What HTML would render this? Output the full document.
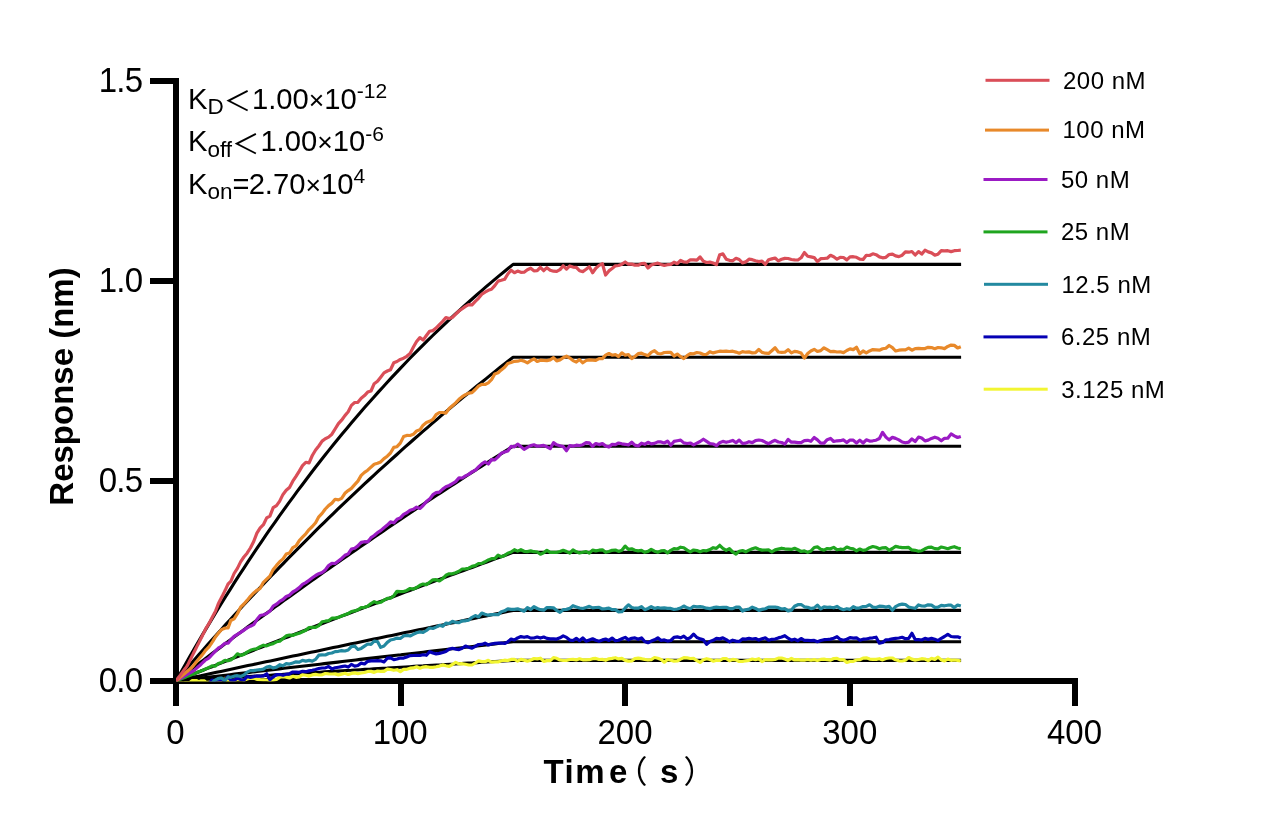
<!DOCTYPE html>
<html lang="en"><head><meta charset="utf-8"><title>BLI kinetics</title>
<style>
html,body{margin:0;padding:0;background:#fff;}
body{width:1272px;height:834px;overflow:hidden;}
svg{display:block;}
text{font-family:"Liberation Sans","Noto Sans CJK SC",sans-serif;fill:#000;}
.tick{font-size:33px;}
.leg{font-size:24px;letter-spacing:0.5px;}
.ann{font-size:29.2px;}
.ttl{font-size:33px;font-weight:bold;}
.par{font-family:"Noto Sans CJK SC",sans-serif;font-weight:400;font-size:31.5px;}
</style></head><body>
<svg width="1272" height="834" viewBox="0 0 1272 834">
<rect width="1272" height="834" fill="#fff"/>
<defs><clipPath id="pc"><rect x="176" y="60" width="820" height="621.5"/></clipPath></defs>
<g fill="#000">
<rect x="173" y="78" width="6" height="628"/>
<rect x="150" y="678" width="928" height="6"/>
<rect x="150" y="478.0" width="26" height="6"/>
<rect x="150" y="278.0" width="26" height="6"/>
<rect x="150" y="78.0" width="26" height="6"/>
<rect x="398" y="681" width="6" height="25"/>
<rect x="622" y="681" width="6" height="25"/>
<rect x="847" y="681" width="6" height="25"/>
<rect x="1072" y="681" width="6" height="25"/>
</g>
<g fill="none" stroke="#000" stroke-width="3.1" stroke-linejoin="round" clip-path="url(#pc)">
<path d="M176.0,681.0 L180.5,672.9 L185.0,665.0 L189.5,657.1 L194.0,649.3 L198.5,641.6 L203.0,633.9 L207.5,626.4 L212.0,618.9 L216.5,611.5 L220.9,604.2 L225.4,596.9 L229.9,589.8 L234.4,582.7 L238.9,575.7 L243.4,568.8 L247.9,561.9 L252.4,555.1 L256.9,548.4 L261.4,541.8 L265.9,535.2 L270.4,528.7 L274.9,522.3 L279.4,515.9 L283.9,509.7 L288.4,503.4 L292.9,497.3 L297.4,491.2 L301.9,485.2 L306.4,479.2 L310.9,473.3 L315.3,467.5 L319.8,461.7 L324.3,456.0 L328.8,450.4 L333.3,444.8 L337.8,439.3 L342.3,433.8 L346.8,428.4 L351.3,423.0 L355.8,417.8 L360.3,412.5 L364.8,407.3 L369.3,402.2 L373.8,397.2 L378.3,392.1 L382.8,387.2 L387.3,382.3 L391.8,377.4 L396.3,372.6 L400.8,367.9 L405.2,363.2 L409.7,358.5 L414.2,353.9 L418.7,349.4 L423.2,344.9 L427.7,340.4 L432.2,336.0 L436.7,331.7 L441.2,327.4 L445.7,323.1 L450.2,318.9 L454.7,314.7 L459.2,310.6 L463.7,306.5 L468.2,302.5 L472.7,298.5 L477.2,294.5 L481.7,290.6 L486.2,286.7 L490.7,282.9 L495.1,279.1 L499.6,275.4 L504.1,271.7 L508.6,268.0 L513.1,264.4 L961.1,264.4"/>
<path d="M176.0,681.0 L180.5,675.8 L185.0,670.6 L189.5,665.4 L194.0,660.2 L198.5,655.1 L203.0,650.0 L207.5,644.9 L212.0,639.9 L216.5,634.9 L220.9,629.9 L225.4,624.9 L229.9,620.0 L234.4,615.1 L238.9,610.2 L243.4,605.3 L247.9,600.5 L252.4,595.7 L256.9,590.9 L261.4,586.2 L265.9,581.5 L270.4,576.8 L274.9,572.1 L279.4,567.4 L283.9,562.8 L288.4,558.2 L292.9,553.6 L297.4,549.1 L301.9,544.6 L306.4,540.1 L310.9,535.6 L315.3,531.1 L319.8,526.7 L324.3,522.3 L328.8,517.9 L333.3,513.6 L337.8,509.2 L342.3,504.9 L346.8,500.6 L351.3,496.4 L355.8,492.1 L360.3,487.9 L364.8,483.7 L369.3,479.5 L373.8,475.4 L378.3,471.2 L382.8,467.1 L387.3,463.1 L391.8,459.0 L396.3,455.0 L400.8,450.9 L405.2,446.9 L409.7,443.0 L414.2,439.0 L418.7,435.1 L423.2,431.2 L427.7,427.3 L432.2,423.4 L436.7,419.6 L441.2,415.7 L445.7,411.9 L450.2,408.1 L454.7,404.4 L459.2,400.6 L463.7,396.9 L468.2,393.2 L472.7,389.5 L477.2,385.8 L481.7,382.2 L486.2,378.6 L490.7,374.9 L495.1,371.4 L499.6,367.8 L504.1,364.2 L508.6,360.7 L513.1,357.2 L961.1,357.2"/>
<path d="M176.0,681.0 L180.5,677.5 L185.0,674.1 L189.5,670.7 L194.0,667.2 L198.5,663.8 L203.0,660.4 L207.5,657.0 L212.0,653.6 L216.5,650.3 L220.9,646.9 L225.4,643.5 L229.9,640.2 L234.4,636.8 L238.9,633.5 L243.4,630.2 L247.9,626.8 L252.4,623.5 L256.9,620.2 L261.4,616.9 L265.9,613.7 L270.4,610.4 L274.9,607.1 L279.4,603.9 L283.9,600.6 L288.4,597.4 L292.9,594.2 L297.4,590.9 L301.9,587.7 L306.4,584.5 L310.9,581.3 L315.3,578.2 L319.8,575.0 L324.3,571.8 L328.8,568.7 L333.3,565.5 L337.8,562.4 L342.3,559.2 L346.8,556.1 L351.3,553.0 L355.8,549.9 L360.3,546.8 L364.8,543.7 L369.3,540.6 L373.8,537.5 L378.3,534.5 L382.8,531.4 L387.3,528.3 L391.8,525.3 L396.3,522.3 L400.8,519.2 L405.2,516.2 L409.7,513.2 L414.2,510.2 L418.7,507.2 L423.2,504.2 L427.7,501.3 L432.2,498.3 L436.7,495.3 L441.2,492.4 L445.7,489.4 L450.2,486.5 L454.7,483.6 L459.2,480.6 L463.7,477.7 L468.2,474.8 L472.7,471.9 L477.2,469.0 L481.7,466.2 L486.2,463.3 L490.7,460.4 L495.1,457.6 L499.6,454.7 L504.1,451.9 L508.6,449.0 L513.1,446.2 L961.1,446.2"/>
<path d="M176.0,681.0 L180.5,679.2 L185.0,677.4 L189.5,675.6 L194.0,673.8 L198.5,672.0 L203.0,670.2 L207.5,668.4 L212.0,666.7 L216.5,664.9 L220.9,663.1 L225.4,661.3 L229.9,659.5 L234.4,657.8 L238.9,656.0 L243.4,654.2 L247.9,652.5 L252.4,650.7 L256.9,648.9 L261.4,647.2 L265.9,645.4 L270.4,643.7 L274.9,641.9 L279.4,640.2 L283.9,638.4 L288.4,636.7 L292.9,634.9 L297.4,633.2 L301.9,631.5 L306.4,629.7 L310.9,628.0 L315.3,626.3 L319.8,624.5 L324.3,622.8 L328.8,621.1 L333.3,619.4 L337.8,617.6 L342.3,615.9 L346.8,614.2 L351.3,612.5 L355.8,610.8 L360.3,609.1 L364.8,607.4 L369.3,605.7 L373.8,604.0 L378.3,602.3 L382.8,600.6 L387.3,598.9 L391.8,597.2 L396.3,595.5 L400.8,593.8 L405.2,592.1 L409.7,590.5 L414.2,588.8 L418.7,587.1 L423.2,585.4 L427.7,583.8 L432.2,582.1 L436.7,580.4 L441.2,578.8 L445.7,577.1 L450.2,575.4 L454.7,573.8 L459.2,572.1 L463.7,570.5 L468.2,568.8 L472.7,567.2 L477.2,565.5 L481.7,563.9 L486.2,562.2 L490.7,560.6 L495.1,558.9 L499.6,557.3 L504.1,555.7 L508.6,554.0 L513.1,552.4 L961.1,552.4"/>
<path d="M176.0,681.0 L180.5,680.0 L185.0,679.1 L189.5,678.1 L194.0,677.1 L198.5,676.2 L203.0,675.2 L207.5,674.3 L212.0,673.3 L216.5,672.3 L220.9,671.4 L225.4,670.4 L229.9,669.5 L234.4,668.5 L238.9,667.5 L243.4,666.6 L247.9,665.6 L252.4,664.7 L256.9,663.7 L261.4,662.8 L265.9,661.8 L270.4,660.9 L274.9,659.9 L279.4,659.0 L283.9,658.0 L288.4,657.1 L292.9,656.1 L297.4,655.2 L301.9,654.2 L306.4,653.3 L310.9,652.3 L315.3,651.4 L319.8,650.4 L324.3,649.5 L328.8,648.6 L333.3,647.6 L337.8,646.7 L342.3,645.7 L346.8,644.8 L351.3,643.8 L355.8,642.9 L360.3,642.0 L364.8,641.0 L369.3,640.1 L373.8,639.1 L378.3,638.2 L382.8,637.3 L387.3,636.3 L391.8,635.4 L396.3,634.5 L400.8,633.5 L405.2,632.6 L409.7,631.7 L414.2,630.7 L418.7,629.8 L423.2,628.9 L427.7,627.9 L432.2,627.0 L436.7,626.1 L441.2,625.2 L445.7,624.2 L450.2,623.3 L454.7,622.4 L459.2,621.5 L463.7,620.5 L468.2,619.6 L472.7,618.7 L477.2,617.8 L481.7,616.8 L486.2,615.9 L490.7,615.0 L495.1,614.1 L499.6,613.2 L504.1,612.2 L508.6,611.3 L513.1,610.4 L961.1,610.4"/>
<path d="M176.0,681.0 L180.5,680.5 L185.0,679.9 L189.5,679.4 L194.0,678.9 L198.5,678.4 L203.0,677.8 L207.5,677.3 L212.0,676.8 L216.5,676.2 L220.9,675.7 L225.4,675.2 L229.9,674.7 L234.4,674.1 L238.9,673.6 L243.4,673.1 L247.9,672.6 L252.4,672.0 L256.9,671.5 L261.4,671.0 L265.9,670.4 L270.4,669.9 L274.9,669.4 L279.4,668.9 L283.9,668.3 L288.4,667.8 L292.9,667.3 L297.4,666.8 L301.9,666.2 L306.4,665.7 L310.9,665.2 L315.3,664.7 L319.8,664.2 L324.3,663.6 L328.8,663.1 L333.3,662.6 L337.8,662.1 L342.3,661.5 L346.8,661.0 L351.3,660.5 L355.8,660.0 L360.3,659.4 L364.8,658.9 L369.3,658.4 L373.8,657.9 L378.3,657.4 L382.8,656.8 L387.3,656.3 L391.8,655.8 L396.3,655.3 L400.8,654.8 L405.2,654.2 L409.7,653.7 L414.2,653.2 L418.7,652.7 L423.2,652.2 L427.7,651.6 L432.2,651.1 L436.7,650.6 L441.2,650.1 L445.7,649.6 L450.2,649.0 L454.7,648.5 L459.2,648.0 L463.7,647.5 L468.2,647.0 L472.7,646.5 L477.2,645.9 L481.7,645.4 L486.2,644.9 L490.7,644.4 L495.1,643.9 L499.6,643.3 L504.1,642.8 L508.6,642.3 L513.1,641.8 L961.1,641.8"/>
<path d="M176.0,681.0 L180.5,680.7 L185.0,680.4 L189.5,680.2 L194.0,679.9 L198.5,679.6 L203.0,679.3 L207.5,679.1 L212.0,678.8 L216.5,678.5 L220.9,678.2 L225.4,678.0 L229.9,677.7 L234.4,677.4 L238.9,677.1 L243.4,676.9 L247.9,676.6 L252.4,676.3 L256.9,676.0 L261.4,675.8 L265.9,675.5 L270.4,675.2 L274.9,674.9 L279.4,674.7 L283.9,674.4 L288.4,674.1 L292.9,673.8 L297.4,673.6 L301.9,673.3 L306.4,673.0 L310.9,672.7 L315.3,672.5 L319.8,672.2 L324.3,671.9 L328.8,671.6 L333.3,671.4 L337.8,671.1 L342.3,670.8 L346.8,670.5 L351.3,670.3 L355.8,670.0 L360.3,669.7 L364.8,669.4 L369.3,669.2 L373.8,668.9 L378.3,668.6 L382.8,668.3 L387.3,668.1 L391.8,667.8 L396.3,667.5 L400.8,667.2 L405.2,667.0 L409.7,666.7 L414.2,666.4 L418.7,666.1 L423.2,665.9 L427.7,665.6 L432.2,665.3 L436.7,665.0 L441.2,664.8 L445.7,664.5 L450.2,664.2 L454.7,664.0 L459.2,663.7 L463.7,663.4 L468.2,663.1 L472.7,662.9 L477.2,662.6 L481.7,662.3 L486.2,662.0 L490.7,661.8 L495.1,661.5 L499.6,661.2 L504.1,660.9 L508.6,660.7 L513.1,660.4 L961.1,660.4"/>
</g>
<g fill="none" stroke-width="3.2" stroke-linejoin="round" stroke-linecap="butt" clip-path="url(#pc)">
<path stroke="#F2F532" d="M176.0,683.0 L176.9,683.0 L177.8,682.9 L178.7,682.9 L179.6,682.9 L180.5,682.9 L181.4,682.8 L182.3,682.8 L183.2,682.8 L184.1,682.8 L185.0,682.7 L185.9,682.7 L186.8,682.7 L187.7,682.7 L188.6,682.6 L189.5,682.6 L190.4,682.0 L191.3,681.3 L192.2,680.7 L193.1,680.7 L194.0,680.7 L194.9,680.7 L195.8,680.7 L196.7,680.7 L197.6,681.2 L198.5,682.1 L199.4,682.1 L200.3,681.0 L201.2,680.8 L202.1,680.8 L203.0,680.8 L203.9,680.8 L204.8,681.2 L205.7,682.1 L206.6,682.5 L207.5,682.4 L208.4,682.3 L209.3,682.2 L210.2,682.2 L211.1,682.2 L212.0,682.3 L212.9,682.4 L213.8,682.5 L214.7,682.6 L215.6,682.7 L216.5,682.6 L217.4,682.3 L218.3,682.0 L219.2,681.6 L220.1,681.1 L220.9,680.7 L221.8,680.2 L222.7,679.7 L223.6,679.3 L224.5,679.0 L225.4,679.3 L226.3,679.9 L227.2,680.5 L228.1,681.1 L229.0,681.2 L229.9,681.2 L230.8,681.3 L234.1,680.3 L237.4,679.8 L240.6,679.6 L243.9,680.3 L247.1,679.0 L250.4,678.3 L253.7,678.1 L256.9,679.3 L260.2,679.7 L263.4,679.8 L266.7,680.0 L269.9,680.5 L273.2,680.1 L276.5,679.4 L279.7,677.3 L283.0,676.6 L286.2,677.1 L289.5,678.0 L292.8,676.3 L296.0,677.3 L299.3,676.9 L302.5,674.6 L305.8,675.2 L309.1,676.1 L312.3,674.9 L315.6,674.4 L318.8,675.0 L322.1,674.8 L325.3,673.5 L328.6,673.9 L331.9,674.0 L335.1,673.9 L338.4,674.9 L341.6,674.1 L344.9,673.3 L348.2,674.5 L351.4,673.4 L354.7,672.9 L357.9,673.6 L361.2,673.0 L364.5,672.5 L367.7,671.4 L371.0,671.4 L374.2,672.4 L377.5,671.0 L380.7,671.3 L384.0,671.4 L387.3,669.1 L390.5,669.5 L393.8,670.3 L397.0,669.7 L400.3,671.7 L403.6,669.4 L406.8,669.3 L410.1,668.2 L413.3,667.9 L416.6,666.8 L419.9,668.2 L423.1,667.1 L426.4,666.7 L429.6,667.3 L432.9,667.4 L436.1,666.8 L439.4,666.1 L442.7,664.9 L445.9,665.8 L449.2,666.4 L452.4,664.5 L455.7,662.4 L459.0,663.9 L462.2,663.7 L465.5,664.3 L468.7,665.0 L472.0,665.0 L475.3,663.0 L478.5,660.9 L481.8,661.6 L485.0,661.7 L488.3,660.3 L491.5,662.1 L494.8,661.8 L498.1,661.9 L501.3,660.8 L504.6,660.2 L507.8,660.6 L511.1,659.4 L514.4,659.4 L517.6,661.1 L520.9,659.4 L524.1,660.1 L527.4,661.1 L530.7,660.2 L533.9,658.5 L537.2,658.9 L540.4,658.2 L543.7,661.4 L546.9,660.6 L550.2,660.6 L553.5,657.6 L556.7,658.3 L560.0,660.0 L563.2,660.5 L566.5,660.4 L569.8,659.5 L573.0,659.4 L576.3,659.9 L579.5,658.8 L582.8,659.8 L586.1,659.9 L589.3,659.7 L592.6,658.7 L595.8,658.4 L599.1,659.5 L602.4,659.4 L605.6,660.3 L608.9,658.8 L612.1,658.4 L615.4,657.7 L618.6,658.9 L621.9,658.4 L625.2,660.4 L628.4,661.1 L631.7,661.0 L634.9,658.5 L638.2,658.2 L641.5,658.7 L644.7,659.4 L648.0,660.0 L651.2,659.6 L654.5,657.5 L657.8,658.2 L661.0,659.4 L664.3,662.2 L667.5,659.5 L670.8,660.2 L674.0,661.1 L677.3,661.0 L680.6,659.1 L683.8,657.7 L687.1,657.9 L690.3,658.5 L693.6,658.4 L696.9,660.7 L700.1,662.4 L703.4,659.7 L706.6,658.7 L709.9,659.5 L713.2,661.2 L716.4,660.2 L719.7,660.5 L722.9,658.5 L726.2,658.5 L729.4,660.8 L732.7,659.4 L736.0,659.9 L739.2,661.5 L742.5,661.5 L745.7,660.8 L749.0,660.3 L752.3,659.0 L755.5,659.7 L758.8,658.7 L762.0,661.5 L765.3,659.7 L768.6,659.8 L771.8,659.8 L775.1,659.5 L778.3,658.1 L781.6,658.0 L784.8,659.1 L788.1,660.4 L791.4,658.4 L794.6,660.0 L797.9,659.6 L801.1,660.2 L804.4,660.2 L807.7,659.5 L810.9,660.2 L814.2,659.6 L817.4,660.5 L820.7,659.4 L824.0,659.1 L827.2,659.7 L830.5,660.1 L833.7,658.5 L837.0,658.4 L840.2,659.9 L843.5,659.7 L846.8,662.4 L850.0,661.5 L853.3,661.4 L856.5,660.0 L859.8,659.7 L863.1,658.1 L866.3,657.8 L869.6,659.1 L872.8,659.3 L876.1,659.4 L879.4,658.7 L882.6,659.9 L885.9,658.5 L889.1,658.0 L892.4,658.0 L895.6,659.8 L898.9,660.8 L902.2,661.0 L905.4,660.3 L908.7,657.5 L911.9,659.1 L915.2,660.1 L918.5,659.5 L921.7,658.7 L925.0,659.0 L928.2,660.6 L931.5,658.4 L934.8,659.4 L938.0,657.1 L941.3,659.9 L944.5,660.9 L947.8,659.1 L951.1,660.3 L954.3,660.0 L957.6,660.4 L960.8,661.0"/>
<path stroke="#0500B4" d="M176.0,693.0 L176.9,692.9 L177.8,692.8 L178.7,692.6 L179.6,692.5 L180.5,692.4 L181.4,692.3 L182.3,692.1 L183.2,692.0 L184.1,691.9 L185.0,691.8 L185.9,691.6 L186.8,691.5 L187.7,691.4 L188.6,691.3 L189.5,691.2 L190.4,691.0 L191.3,690.9 L192.2,690.8 L193.1,690.7 L194.0,690.5 L194.9,690.4 L195.8,690.3 L196.7,690.2 L197.6,690.0 L198.5,689.9 L199.4,689.8 L200.3,689.7 L201.2,689.8 L202.1,689.9 L203.0,689.7 L203.9,689.4 L204.8,689.1 L205.7,688.3 L206.6,686.9 L207.5,685.5 L208.4,684.1 L209.3,682.9 L210.2,682.0 L211.1,681.0 L212.0,680.1 L212.9,680.3 L213.8,680.4 L214.7,680.6 L215.6,680.7 L216.5,680.5 L217.4,680.3 L218.3,680.1 L219.2,680.1 L220.1,680.1 L220.9,680.1 L221.8,680.1 L222.7,680.0 L223.6,680.0 L224.5,679.9 L225.4,679.3 L226.3,678.3 L227.2,677.4 L228.1,676.4 L229.0,677.7 L229.9,679.0 L230.8,680.2 L234.1,680.5 L237.4,678.1 L240.6,679.5 L243.9,680.1 L247.1,676.5 L250.4,677.4 L253.7,676.6 L256.9,676.0 L260.2,676.1 L263.4,675.8 L266.7,673.8 L269.9,679.8 L273.2,676.9 L276.5,674.7 L279.7,674.5 L283.0,675.3 L286.2,674.3 L289.5,673.7 L292.8,672.0 L296.0,672.1 L299.3,672.3 L302.5,671.4 L305.8,671.7 L309.1,670.9 L312.3,670.3 L315.6,669.5 L318.8,668.5 L322.1,668.0 L325.3,667.9 L328.6,666.5 L331.9,668.9 L335.1,667.8 L338.4,667.2 L341.6,666.6 L344.9,666.0 L348.2,667.1 L351.4,664.4 L354.7,666.1 L357.9,665.5 L361.2,663.1 L364.5,664.0 L367.7,661.3 L371.0,660.8 L374.2,660.8 L377.5,660.7 L380.7,660.8 L384.0,661.9 L387.3,658.2 L390.5,657.9 L393.8,659.6 L397.0,659.0 L400.3,658.0 L403.6,658.1 L406.8,656.9 L410.1,655.6 L413.3,655.5 L416.6,655.4 L419.9,655.5 L423.1,654.7 L426.4,655.3 L429.6,651.7 L432.9,653.0 L436.1,653.9 L439.4,653.4 L442.7,652.5 L445.9,651.4 L449.2,649.2 L452.4,648.3 L455.7,649.1 L459.0,649.6 L462.2,648.3 L465.5,646.0 L468.7,647.2 L472.0,648.1 L475.3,646.3 L478.5,644.5 L481.8,644.4 L485.0,643.2 L488.3,645.0 L491.5,644.0 L494.8,643.4 L498.1,643.2 L501.3,643.0 L504.6,643.5 L507.8,641.8 L511.1,639.1 L514.4,640.0 L517.6,637.9 L520.9,636.6 L524.1,637.3 L527.4,636.6 L530.7,638.1 L533.9,638.0 L537.2,637.0 L540.4,638.1 L543.7,637.0 L546.9,638.4 L550.2,638.8 L553.5,638.9 L556.7,639.1 L560.0,637.8 L563.2,635.9 L566.5,637.4 L569.8,640.1 L573.0,640.5 L576.3,638.3 L579.5,640.7 L582.8,637.9 L586.1,641.2 L589.3,639.9 L592.6,638.8 L595.8,640.3 L599.1,641.2 L602.4,639.9 L605.6,639.1 L608.9,640.4 L612.1,638.1 L615.4,640.8 L618.6,640.2 L621.9,638.8 L625.2,637.4 L628.4,639.8 L631.7,638.3 L634.9,637.9 L638.2,639.3 L641.5,637.9 L644.7,641.5 L648.0,642.7 L651.2,641.1 L654.5,639.8 L657.8,637.8 L661.0,640.5 L664.3,639.9 L667.5,641.1 L670.8,640.5 L674.0,637.3 L677.3,636.9 L680.6,637.8 L683.8,636.1 L687.1,639.0 L690.3,637.7 L693.6,634.1 L696.9,637.5 L700.1,638.9 L703.4,639.9 L706.6,644.4 L709.9,641.5 L713.2,640.3 L716.4,638.4 L719.7,638.9 L722.9,637.9 L726.2,639.6 L729.4,641.8 L732.7,640.2 L736.0,641.1 L739.2,641.5 L742.5,638.9 L745.7,639.1 L749.0,638.4 L752.3,639.0 L755.5,638.5 L758.8,640.1 L762.0,638.8 L765.3,637.9 L768.6,640.2 L771.8,639.3 L775.1,639.0 L778.3,637.9 L781.6,637.0 L784.8,635.7 L788.1,638.2 L791.4,640.1 L794.6,639.2 L797.9,640.8 L801.1,638.5 L804.4,640.3 L807.7,640.4 L810.9,640.7 L814.2,640.4 L817.4,641.7 L820.7,640.5 L824.0,639.7 L827.2,639.5 L830.5,639.1 L833.7,638.2 L837.0,636.7 L840.2,639.4 L843.5,640.2 L846.8,639.2 L850.0,637.6 L853.3,638.1 L856.5,637.8 L859.8,640.2 L863.1,639.2 L866.3,639.0 L869.6,638.2 L872.8,637.8 L876.1,637.2 L879.4,643.2 L882.6,642.5 L885.9,639.8 L889.1,639.6 L892.4,638.9 L895.6,638.4 L898.9,638.0 L902.2,637.3 L905.4,638.7 L908.7,638.3 L911.9,633.3 L915.2,639.6 L918.5,639.6 L921.7,640.0 L925.0,638.4 L928.2,639.4 L931.5,638.4 L934.8,639.2 L938.0,640.6 L941.3,638.3 L944.5,636.5 L947.8,634.3 L951.1,636.5 L954.3,636.9 L957.6,636.8 L960.8,638.1"/>
<path stroke="#2389A0" d="M176.0,693.0 L176.9,692.9 L177.8,692.8 L178.7,692.7 L179.6,692.5 L180.5,692.4 L181.4,692.3 L182.3,692.2 L183.2,692.1 L184.1,692.0 L185.0,691.9 L185.9,691.7 L186.8,691.6 L187.7,691.5 L188.6,691.4 L189.5,691.3 L190.4,691.2 L191.3,691.1 L192.2,690.9 L193.1,690.8 L194.0,690.7 L194.9,690.6 L195.8,690.5 L196.7,690.4 L197.6,690.3 L198.5,690.1 L199.4,690.0 L200.3,689.9 L201.2,689.8 L202.1,689.8 L203.0,689.6 L203.9,689.4 L204.8,689.2 L205.7,689.1 L206.6,689.1 L207.5,689.2 L208.4,688.4 L209.3,687.3 L210.2,686.0 L211.1,684.6 L212.0,683.3 L212.9,682.1 L213.8,681.0 L214.7,680.3 L215.6,679.9 L216.5,679.4 L217.4,679.0 L218.3,678.5 L219.2,678.3 L220.1,678.2 L220.9,678.1 L221.8,678.2 L222.7,679.0 L223.6,679.7 L224.5,680.5 L225.4,680.1 L226.3,679.0 L227.2,678.0 L228.1,676.9 L229.0,677.1 L229.9,677.2 L230.8,677.3 L234.1,676.2 L237.4,675.7 L240.6,676.4 L243.9,675.1 L247.1,672.1 L250.4,670.6 L253.7,670.6 L256.9,670.0 L260.2,669.7 L263.4,669.1 L266.7,667.0 L269.9,666.4 L273.2,668.0 L276.5,667.1 L279.7,664.7 L283.0,665.8 L286.2,663.6 L289.5,664.1 L292.8,663.0 L296.0,661.8 L299.3,662.1 L302.5,660.4 L305.8,661.1 L309.1,660.4 L312.3,661.1 L315.6,659.4 L318.8,655.2 L322.1,654.8 L325.3,655.0 L328.6,653.5 L331.9,653.0 L335.1,651.6 L338.4,651.3 L341.6,650.6 L344.9,651.0 L348.2,650.0 L351.4,646.7 L354.7,646.2 L357.9,649.5 L361.2,648.4 L364.5,646.1 L367.7,644.0 L371.0,644.3 L374.2,641.2 L377.5,641.5 L380.7,647.4 L384.0,646.0 L387.3,642.4 L390.5,640.0 L393.8,639.3 L397.0,638.1 L400.3,638.5 L403.6,635.9 L406.8,635.4 L410.1,636.0 L413.3,634.4 L416.6,632.8 L419.9,631.9 L423.1,632.5 L426.4,630.5 L429.6,628.0 L432.9,628.5 L436.1,627.1 L439.4,625.3 L442.7,626.3 L445.9,623.1 L449.2,623.5 L452.4,621.3 L455.7,622.5 L459.0,622.7 L462.2,620.9 L465.5,620.8 L468.7,620.1 L472.0,617.3 L475.3,615.6 L478.5,616.9 L481.8,613.1 L485.0,614.3 L488.3,615.2 L491.5,614.7 L494.8,614.6 L498.1,614.7 L501.3,611.8 L504.6,610.8 L507.8,608.8 L511.1,609.3 L514.4,609.3 L517.6,608.8 L520.9,610.0 L524.1,611.2 L527.4,607.6 L530.7,609.5 L533.9,606.7 L537.2,608.5 L540.4,609.7 L543.7,610.2 L546.9,607.6 L550.2,607.6 L553.5,607.8 L556.7,610.4 L560.0,612.3 L563.2,609.7 L566.5,609.4 L569.8,608.4 L573.0,605.7 L576.3,606.9 L579.5,608.0 L582.8,608.5 L586.1,607.4 L589.3,606.4 L592.6,607.9 L595.8,607.5 L599.1,607.3 L602.4,609.0 L605.6,608.6 L608.9,608.1 L612.1,609.6 L615.4,609.7 L618.6,611.8 L621.9,611.7 L625.2,608.0 L628.4,604.8 L631.7,607.5 L634.9,608.2 L638.2,608.2 L641.5,606.6 L644.7,609.7 L648.0,608.5 L651.2,606.7 L654.5,608.5 L657.8,607.6 L661.0,608.2 L664.3,607.8 L667.5,608.3 L670.8,608.4 L674.0,609.5 L677.3,609.0 L680.6,608.0 L683.8,606.0 L687.1,607.8 L690.3,608.8 L693.6,606.3 L696.9,606.9 L700.1,606.7 L703.4,607.2 L706.6,608.2 L709.9,608.6 L713.2,607.7 L716.4,607.2 L719.7,607.5 L722.9,607.4 L726.2,607.3 L729.4,608.6 L732.7,608.6 L736.0,607.1 L739.2,607.0 L742.5,611.1 L745.7,609.8 L749.0,609.1 L752.3,607.2 L755.5,608.4 L758.8,610.4 L762.0,609.4 L765.3,608.7 L768.6,607.1 L771.8,607.2 L775.1,607.2 L778.3,607.7 L781.6,609.0 L784.8,608.7 L788.1,610.9 L791.4,610.1 L794.6,606.3 L797.9,604.7 L801.1,604.5 L804.4,606.8 L807.7,607.3 L810.9,608.6 L814.2,607.9 L817.4,605.1 L820.7,608.9 L824.0,606.8 L827.2,607.4 L830.5,607.2 L833.7,607.8 L837.0,606.4 L840.2,608.5 L843.5,609.7 L846.8,608.7 L850.0,609.4 L853.3,606.6 L856.5,608.2 L859.8,607.8 L863.1,606.6 L866.3,606.4 L869.6,604.8 L872.8,607.1 L876.1,607.5 L879.4,606.1 L882.6,606.3 L885.9,607.1 L889.1,606.4 L892.4,610.2 L895.6,606.6 L898.9,604.9 L902.2,604.1 L905.4,604.5 L908.7,607.1 L911.9,607.7 L915.2,608.3 L918.5,604.9 L921.7,606.0 L925.0,606.1 L928.2,604.8 L931.5,605.1 L934.8,607.3 L938.0,607.2 L941.3,605.4 L944.5,605.8 L947.8,605.2 L951.1,605.2 L954.3,607.6 L957.6,605.0 L960.8,606.0"/>
<path stroke="#1FA51F" d="M176.0,681.0 L176.9,680.6 L177.8,680.3 L178.7,679.9 L179.6,679.5 L180.5,679.2 L181.4,678.8 L182.3,678.5 L183.2,678.1 L184.1,677.7 L185.0,677.4 L185.9,677.0 L186.8,676.6 L187.7,676.3 L188.6,675.9 L189.5,675.6 L190.4,675.2 L191.3,674.8 L192.2,674.5 L193.1,674.1 L194.0,673.7 L194.9,673.4 L195.8,673.0 L196.7,672.7 L197.6,672.3 L198.5,671.9 L199.4,671.5 L200.3,671.2 L201.2,670.8 L202.1,670.5 L203.0,670.1 L203.9,669.7 L204.8,669.3 L205.7,668.9 L206.6,668.5 L207.5,668.1 L208.4,667.7 L209.3,667.3 L210.2,666.8 L211.1,666.4 L212.0,665.9 L212.9,666.0 L213.8,666.1 L214.7,666.2 L215.6,665.9 L216.5,665.1 L217.4,664.3 L218.3,663.5 L219.2,663.2 L220.1,662.9 L220.9,662.7 L221.8,662.4 L222.7,661.8 L223.6,661.2 L224.5,660.6 L225.4,660.4 L226.3,660.5 L227.2,660.6 L228.1,660.7 L229.0,660.4 L229.9,660.1 L230.8,659.9 L234.1,657.5 L237.4,653.8 L240.6,655.4 L243.9,654.4 L247.1,652.1 L250.4,650.3 L253.7,649.3 L256.9,648.7 L260.2,646.6 L263.4,645.2 L266.7,645.9 L269.9,644.5 L273.2,643.6 L276.5,641.8 L279.7,641.2 L283.0,638.5 L286.2,635.9 L289.5,635.0 L292.8,635.4 L296.0,634.1 L299.3,633.3 L302.5,631.8 L305.8,630.3 L309.1,627.5 L312.3,627.3 L315.6,627.4 L318.8,625.7 L322.1,621.8 L325.3,621.2 L328.6,620.7 L331.9,618.2 L335.1,618.1 L338.4,617.4 L341.6,616.0 L344.9,614.8 L348.2,613.6 L351.4,611.5 L354.7,610.9 L357.9,609.8 L361.2,607.6 L364.5,607.3 L367.7,606.2 L371.0,603.6 L374.2,601.7 L377.5,603.0 L380.7,602.3 L384.0,600.1 L387.3,598.3 L390.5,598.2 L393.8,595.8 L397.0,591.3 L400.3,591.7 L403.6,591.5 L406.8,590.4 L410.1,588.5 L413.3,589.1 L416.6,587.5 L419.9,585.3 L423.1,584.0 L426.4,584.6 L429.6,582.3 L432.9,579.8 L436.1,579.7 L439.4,581.0 L442.7,578.6 L445.9,575.3 L449.2,573.8 L452.4,573.8 L455.7,572.7 L459.0,571.2 L462.2,569.0 L465.5,568.9 L468.7,568.2 L472.0,566.4 L475.3,565.6 L478.5,563.5 L481.8,563.4 L485.0,561.8 L488.3,559.9 L491.5,558.7 L494.8,558.7 L498.1,555.2 L501.3,556.7 L504.6,555.4 L507.8,553.2 L511.1,552.0 L514.4,549.7 L517.6,551.1 L520.9,549.7 L524.1,551.3 L527.4,551.6 L530.7,550.9 L533.9,551.7 L537.2,552.0 L540.4,554.2 L543.7,552.8 L546.9,550.3 L550.2,552.4 L553.5,552.3 L556.7,552.4 L560.0,551.5 L563.2,550.3 L566.5,551.6 L569.8,553.1 L573.0,550.0 L576.3,551.8 L579.5,553.0 L582.8,552.2 L586.1,551.6 L589.3,553.1 L592.6,550.1 L595.8,550.9 L599.1,550.2 L602.4,549.8 L605.6,552.3 L608.9,551.5 L612.1,550.3 L615.4,550.0 L618.6,551.4 L621.9,550.3 L625.2,546.1 L628.4,549.3 L631.7,548.8 L634.9,550.2 L638.2,550.9 L641.5,550.4 L644.7,552.3 L648.0,551.4 L651.2,549.3 L654.5,551.2 L657.8,552.3 L661.0,550.9 L664.3,550.5 L667.5,552.9 L670.8,550.3 L674.0,548.6 L677.3,549.0 L680.6,547.2 L683.8,547.8 L687.1,550.1 L690.3,551.9 L693.6,550.0 L696.9,550.5 L700.1,551.8 L703.4,550.5 L706.6,550.8 L709.9,549.6 L713.2,547.7 L716.4,548.4 L719.7,545.3 L722.9,548.4 L726.2,550.4 L729.4,548.7 L732.7,552.0 L736.0,554.2 L739.2,551.2 L742.5,550.5 L745.7,551.8 L749.0,550.1 L752.3,548.7 L755.5,547.8 L758.8,549.2 L762.0,550.1 L765.3,550.0 L768.6,549.9 L771.8,551.8 L775.1,549.9 L778.3,549.1 L781.6,548.2 L784.8,548.8 L788.1,549.1 L791.4,549.4 L794.6,548.3 L797.9,549.7 L801.1,551.5 L804.4,550.9 L807.7,552.4 L810.9,551.0 L814.2,547.5 L817.4,546.9 L820.7,549.3 L824.0,550.1 L827.2,548.5 L830.5,548.8 L833.7,547.4 L837.0,549.8 L840.2,549.2 L843.5,549.6 L846.8,547.0 L850.0,548.3 L853.3,548.9 L856.5,550.8 L859.8,549.0 L863.1,550.4 L866.3,549.7 L869.6,547.7 L872.8,546.5 L876.1,547.3 L879.4,548.8 L882.6,547.8 L885.9,547.6 L889.1,550.3 L892.4,548.5 L895.6,546.4 L898.9,547.1 L902.2,547.6 L905.4,547.7 L908.7,547.4 L911.9,549.9 L915.2,550.3 L918.5,551.3 L921.7,550.7 L925.0,548.8 L928.2,547.4 L931.5,547.2 L934.8,548.6 L938.0,548.8 L941.3,547.0 L944.5,547.8 L947.8,548.7 L951.1,547.5 L954.3,546.7 L957.6,548.0 L960.8,548.7"/>
<path stroke="#9B1BC4" d="M176.0,681.0 L176.9,680.5 L177.8,679.9 L178.7,679.4 L179.6,678.9 L180.5,678.3 L181.4,677.8 L182.3,677.3 L183.2,676.8 L184.1,676.2 L185.0,675.7 L185.9,675.2 L186.8,674.6 L187.7,674.1 L188.6,673.6 L189.5,673.1 L190.4,672.5 L191.3,672.0 L192.2,671.5 L193.1,671.0 L194.0,670.4 L194.9,669.7 L195.8,668.9 L196.7,668.1 L197.6,667.3 L198.5,666.5 L199.4,665.8 L200.3,665.0 L201.2,664.1 L202.1,663.2 L203.0,662.3 L203.9,661.5 L204.8,660.6 L205.7,659.8 L206.6,659.3 L207.5,658.8 L208.4,658.3 L209.3,657.5 L210.2,656.6 L211.1,655.6 L212.0,654.7 L212.9,653.7 L213.8,652.8 L214.7,651.9 L215.6,650.9 L216.5,650.0 L217.4,649.1 L218.3,648.2 L219.2,647.6 L220.1,647.1 L220.9,646.6 L221.8,646.1 L222.7,645.2 L223.6,644.4 L224.5,643.6 L225.4,643.3 L226.3,643.2 L227.2,643.2 L228.1,643.1 L229.0,642.1 L229.9,641.0 L230.8,639.9 L234.1,636.3 L237.4,634.3 L240.6,632.4 L243.9,630.1 L247.1,627.9 L250.4,626.2 L253.7,624.6 L256.9,619.6 L260.2,615.5 L263.4,614.7 L266.7,613.6 L269.9,611.1 L273.2,606.2 L276.5,604.2 L279.7,601.4 L283.0,599.5 L286.2,596.5 L289.5,595.2 L292.8,592.0 L296.0,590.1 L299.3,587.6 L302.5,584.4 L305.8,582.6 L309.1,580.2 L312.3,577.8 L315.6,575.5 L318.8,573.7 L322.1,572.4 L325.3,569.9 L328.6,565.5 L331.9,563.3 L335.1,563.5 L338.4,560.9 L341.6,558.4 L344.9,555.3 L348.2,553.9 L351.4,549.0 L354.7,548.2 L357.9,545.9 L361.2,542.4 L364.5,541.7 L367.7,541.9 L371.0,537.6 L374.2,535.5 L377.5,532.6 L380.7,530.6 L384.0,527.7 L387.3,525.1 L390.5,521.9 L393.8,522.8 L397.0,519.3 L400.3,517.9 L403.6,514.4 L406.8,512.8 L410.1,510.2 L413.3,509.3 L416.6,507.1 L419.9,508.5 L423.1,505.5 L426.4,501.6 L429.6,499.1 L432.9,494.7 L436.1,492.6 L439.4,492.1 L442.7,489.1 L445.9,486.8 L449.2,485.5 L452.4,483.6 L455.7,481.6 L459.0,477.9 L462.2,478.0 L465.5,475.9 L468.7,474.4 L472.0,471.9 L475.3,470.3 L478.5,466.9 L481.8,463.9 L485.0,461.9 L488.3,464.0 L491.5,459.7 L494.8,459.9 L498.1,456.9 L501.3,453.3 L504.6,452.1 L507.8,451.0 L511.1,446.4 L514.4,446.8 L517.6,444.1 L520.9,446.6 L524.1,449.4 L527.4,447.4 L530.7,445.6 L533.9,444.8 L537.2,446.2 L540.4,445.9 L543.7,445.4 L546.9,446.8 L550.2,448.6 L553.5,442.7 L556.7,444.8 L560.0,445.7 L563.2,446.6 L566.5,450.7 L569.8,445.7 L573.0,446.2 L576.3,445.2 L579.5,445.5 L582.8,444.7 L586.1,442.6 L589.3,442.9 L592.6,446.3 L595.8,443.5 L599.1,444.6 L602.4,443.6 L605.6,445.9 L608.9,447.1 L612.1,444.3 L615.4,444.7 L618.6,443.0 L621.9,443.8 L625.2,444.3 L628.4,444.9 L631.7,442.2 L634.9,445.1 L638.2,446.0 L641.5,443.2 L644.7,444.3 L648.0,442.3 L651.2,443.9 L654.5,443.4 L657.8,441.9 L661.0,441.9 L664.3,443.0 L667.5,441.1 L670.8,445.3 L674.0,441.4 L677.3,440.7 L680.6,440.1 L683.8,442.9 L687.1,443.5 L690.3,443.0 L693.6,444.8 L696.9,443.1 L700.1,441.5 L703.4,439.2 L706.6,441.4 L709.9,443.6 L713.2,444.0 L716.4,445.7 L719.7,442.8 L722.9,441.4 L726.2,442.3 L729.4,441.5 L732.7,440.4 L736.0,442.7 L739.2,440.1 L742.5,443.5 L745.7,443.1 L749.0,441.7 L752.3,442.6 L755.5,440.6 L758.8,440.0 L762.0,440.5 L765.3,442.2 L768.6,443.7 L771.8,441.8 L775.1,440.3 L778.3,442.0 L781.6,442.5 L784.8,444.2 L788.1,439.4 L791.4,442.2 L794.6,442.1 L797.9,442.6 L801.1,442.6 L804.4,440.7 L807.7,440.3 L810.9,441.3 L814.2,437.5 L817.4,439.9 L820.7,443.1 L824.0,443.2 L827.2,439.7 L830.5,438.4 L833.7,441.5 L837.0,440.8 L840.2,440.7 L843.5,439.9 L846.8,442.6 L850.0,440.1 L853.3,440.2 L856.5,443.0 L859.8,440.1 L863.1,443.0 L866.3,439.8 L869.6,441.1 L872.8,440.8 L876.1,440.2 L879.4,438.5 L882.6,432.3 L885.9,437.1 L889.1,439.9 L892.4,437.4 L895.6,438.4 L898.9,439.9 L902.2,442.0 L905.4,442.8 L908.7,442.1 L911.9,438.9 L915.2,441.5 L918.5,437.1 L921.7,438.0 L925.0,440.9 L928.2,440.1 L931.5,438.4 L934.8,437.2 L938.0,438.3 L941.3,440.8 L944.5,438.3 L947.8,438.2 L951.1,433.9 L954.3,435.8 L957.6,437.5 L960.8,436.5"/>
<path stroke="#E8892A" d="M176.0,681.0 L176.9,680.2 L177.8,679.5 L178.7,678.7 L179.6,677.9 L180.5,677.1 L181.4,676.4 L182.3,675.6 L183.2,674.8 L184.1,674.1 L185.0,673.3 L185.9,672.5 L186.8,671.8 L187.7,671.0 L188.6,670.2 L189.5,669.5 L190.4,668.7 L191.3,668.0 L192.2,667.0 L193.1,665.9 L194.0,664.8 L194.9,663.7 L195.8,662.6 L196.7,661.5 L197.6,660.4 L198.5,659.3 L199.4,658.2 L200.3,657.1 L201.2,656.1 L202.1,655.1 L203.0,653.9 L203.9,652.7 L204.8,651.4 L205.7,650.2 L206.6,649.3 L207.5,648.4 L208.4,647.5 L209.3,646.4 L210.2,645.1 L211.1,643.9 L212.0,642.5 L212.9,641.1 L213.8,639.6 L214.7,638.1 L215.6,636.7 L216.5,635.5 L217.4,634.4 L218.3,633.2 L219.2,632.2 L220.1,631.2 L220.9,630.2 L221.8,629.5 L222.7,629.1 L223.6,628.7 L224.5,628.3 L225.4,628.1 L226.3,628.0 L227.2,628.0 L228.1,627.9 L229.0,625.5 L229.9,623.0 L230.8,620.5 L234.1,618.8 L237.4,613.7 L240.6,607.2 L243.9,604.0 L247.1,600.4 L250.4,596.3 L253.7,592.9 L256.9,590.3 L260.2,588.3 L263.4,582.3 L266.7,579.2 L269.9,576.1 L273.2,569.4 L276.5,565.4 L279.7,561.7 L283.0,558.9 L286.2,554.1 L289.5,553.0 L292.8,547.6 L296.0,545.9 L299.3,540.6 L302.5,537.2 L305.8,533.8 L309.1,529.6 L312.3,526.5 L315.6,522.7 L318.8,516.8 L322.1,513.4 L325.3,509.0 L328.6,505.6 L331.9,503.1 L335.1,499.3 L338.4,499.9 L341.6,498.4 L344.9,493.3 L348.2,490.6 L351.4,488.4 L354.7,484.6 L357.9,481.1 L361.2,475.4 L364.5,472.4 L367.7,470.2 L371.0,467.1 L374.2,464.2 L377.5,463.2 L380.7,461.9 L384.0,458.6 L387.3,456.2 L390.5,453.0 L393.8,447.4 L397.0,446.7 L400.3,443.1 L403.6,436.6 L406.8,435.4 L410.1,435.5 L413.3,434.3 L416.6,431.0 L419.9,429.8 L423.1,425.2 L426.4,422.6 L429.6,421.3 L432.9,419.3 L436.1,414.6 L439.4,412.5 L442.7,412.5 L445.9,413.1 L449.2,408.5 L452.4,405.7 L455.7,402.9 L459.0,399.3 L462.2,396.7 L465.5,394.6 L468.7,393.1 L472.0,392.6 L475.3,389.5 L478.5,386.2 L481.8,384.4 L485.0,384.5 L488.3,382.8 L491.5,379.7 L494.8,373.9 L498.1,372.8 L501.3,369.9 L504.6,367.3 L507.8,363.5 L511.1,362.5 L514.4,361.3 L517.6,361.2 L520.9,360.2 L524.1,361.1 L527.4,362.9 L530.7,360.7 L533.9,358.8 L537.2,361.5 L540.4,360.2 L543.7,360.4 L546.9,360.6 L550.2,359.9 L553.5,357.7 L556.7,360.9 L560.0,359.9 L563.2,357.7 L566.5,356.2 L569.8,358.1 L573.0,360.6 L576.3,362.1 L579.5,359.6 L582.8,362.8 L586.1,360.5 L589.3,359.9 L592.6,360.1 L595.8,360.4 L599.1,358.7 L602.4,358.6 L605.6,355.1 L608.9,353.5 L612.1,355.2 L615.4,354.6 L618.6,356.5 L621.9,352.8 L625.2,355.2 L628.4,354.5 L631.7,358.6 L634.9,356.5 L638.2,353.7 L641.5,353.2 L644.7,354.6 L648.0,355.7 L651.2,352.4 L654.5,350.7 L657.8,353.5 L661.0,353.9 L664.3,352.5 L667.5,352.4 L670.8,352.4 L674.0,356.0 L677.3,354.1 L680.6,356.7 L683.8,358.6 L687.1,355.6 L690.3,353.6 L693.6,353.8 L696.9,352.5 L700.1,353.0 L703.4,354.5 L706.6,354.3 L709.9,351.7 L713.2,352.9 L716.4,352.0 L719.7,351.2 L722.9,351.4 L726.2,351.2 L729.4,351.5 L732.7,351.2 L736.0,352.1 L739.2,353.2 L742.5,351.6 L745.7,352.2 L749.0,351.9 L752.3,352.9 L755.5,352.6 L758.8,349.5 L762.0,352.4 L765.3,353.2 L768.6,353.4 L771.8,350.8 L775.1,347.8 L778.3,352.0 L781.6,352.3 L784.8,352.2 L788.1,349.7 L791.4,352.9 L794.6,351.4 L797.9,351.9 L801.1,353.0 L804.4,358.1 L807.7,353.5 L810.9,351.0 L814.2,349.3 L817.4,351.5 L820.7,350.6 L824.0,347.8 L827.2,349.7 L830.5,351.6 L833.7,351.4 L837.0,352.0 L840.2,351.8 L843.5,352.6 L846.8,350.5 L850.0,348.9 L853.3,349.6 L856.5,347.2 L859.8,353.8 L863.1,351.0 L866.3,352.8 L869.6,350.9 L872.8,349.6 L876.1,349.9 L879.4,350.2 L882.6,348.8 L885.9,348.2 L889.1,345.5 L892.4,347.6 L895.6,351.0 L898.9,350.2 L902.2,349.8 L905.4,349.9 L908.7,348.2 L911.9,350.2 L915.2,348.6 L918.5,348.3 L921.7,348.7 L925.0,348.6 L928.2,347.3 L931.5,347.6 L934.8,348.7 L938.0,347.5 L941.3,347.8 L944.5,348.6 L947.8,346.4 L951.1,345.1 L954.3,345.4 L957.6,347.9 L960.8,346.7"/>
<path stroke="#DA4E58" d="M176.0,681.0 L176.9,679.8 L177.8,678.5 L178.7,677.3 L179.6,676.1 L180.5,674.9 L181.4,673.6 L182.3,672.4 L183.2,671.2 L184.1,670.0 L185.0,668.8 L185.9,667.6 L186.8,666.4 L187.7,664.9 L188.6,663.1 L189.5,661.3 L190.4,659.5 L191.3,657.7 L192.2,655.9 L193.1,654.1 L194.0,652.3 L194.9,650.5 L195.8,648.7 L196.7,646.9 L197.6,645.1 L198.5,643.4 L199.4,641.6 L200.3,639.8 L201.2,638.0 L202.1,636.2 L203.0,634.4 L203.9,632.6 L204.8,630.7 L205.7,628.9 L206.6,627.3 L207.5,625.9 L208.4,624.5 L209.3,622.9 L210.2,621.2 L211.1,619.5 L212.0,617.8 L212.9,616.1 L213.8,614.4 L214.7,612.8 L215.6,610.8 L216.5,608.6 L217.4,606.3 L218.3,603.9 L219.2,602.0 L220.1,600.4 L220.9,598.7 L221.8,596.9 L222.7,595.2 L223.6,593.4 L224.5,591.6 L225.4,589.8 L226.3,587.8 L227.2,585.9 L228.1,584.0 L229.0,583.1 L229.9,582.2 L230.8,581.3 L234.1,573.5 L237.4,568.4 L240.6,561.9 L243.9,557.0 L247.1,553.2 L250.4,548.0 L253.7,541.5 L256.9,533.2 L260.2,527.9 L263.4,524.7 L266.7,517.9 L269.9,516.1 L273.2,507.7 L276.5,505.6 L279.7,501.1 L283.0,494.4 L286.2,490.3 L289.5,487.5 L292.8,481.2 L296.0,476.4 L299.3,471.1 L302.5,465.6 L305.8,462.3 L309.1,462.9 L312.3,455.5 L315.6,450.0 L318.8,446.0 L322.1,441.1 L325.3,438.7 L328.6,437.1 L331.9,434.2 L335.1,429.0 L338.4,423.7 L341.6,420.2 L344.9,415.6 L348.2,411.8 L351.4,405.4 L354.7,402.5 L357.9,402.3 L361.2,398.3 L364.5,395.6 L367.7,392.1 L371.0,391.0 L374.2,383.7 L377.5,381.3 L380.7,377.2 L384.0,372.9 L387.3,371.0 L390.5,369.7 L393.8,362.8 L397.0,361.5 L400.3,359.4 L403.6,358.2 L406.8,356.3 L410.1,353.4 L413.3,347.3 L416.6,341.5 L419.9,337.6 L423.1,340.1 L426.4,335.5 L429.6,331.3 L432.9,330.6 L436.1,328.1 L439.4,324.6 L442.7,321.4 L445.9,317.6 L449.2,318.5 L452.4,317.4 L455.7,314.1 L459.0,311.0 L462.2,308.8 L465.5,306.4 L468.7,304.6 L472.0,304.9 L475.3,301.3 L478.5,298.3 L481.8,294.3 L485.0,292.1 L488.3,290.3 L491.5,289.3 L494.8,285.6 L498.1,281.1 L501.3,280.3 L504.6,279.3 L507.8,274.0 L511.1,270.2 L514.4,272.7 L517.6,271.1 L520.9,272.3 L524.1,272.2 L527.4,269.7 L530.7,268.2 L533.9,270.8 L537.2,270.7 L540.4,267.3 L543.7,270.7 L546.9,267.7 L550.2,270.3 L553.5,271.2 L556.7,271.4 L560.0,269.6 L563.2,265.8 L566.5,269.0 L569.8,265.9 L573.0,267.1 L576.3,267.4 L579.5,270.7 L582.8,271.6 L586.1,269.3 L589.3,266.8 L592.6,272.7 L595.8,268.2 L599.1,265.4 L602.4,263.7 L605.6,275.0 L608.9,270.9 L612.1,268.5 L615.4,265.8 L618.6,265.5 L621.9,264.2 L625.2,262.0 L628.4,264.2 L631.7,264.1 L634.9,265.1 L638.2,265.2 L641.5,263.6 L644.7,263.4 L648.0,268.0 L651.2,265.0 L654.5,264.0 L657.8,263.1 L661.0,264.5 L664.3,265.4 L667.5,264.7 L670.8,264.4 L674.0,262.2 L677.3,263.7 L680.6,260.4 L683.8,262.0 L687.1,262.1 L690.3,259.8 L693.6,259.8 L696.9,260.2 L700.1,257.0 L703.4,261.2 L706.6,262.5 L709.9,262.1 L713.2,263.0 L716.4,264.7 L719.7,254.7 L722.9,253.9 L726.2,259.2 L729.4,260.3 L732.7,260.8 L736.0,258.3 L739.2,259.5 L742.5,262.9 L745.7,261.9 L749.0,259.2 L752.3,259.7 L755.5,260.7 L758.8,261.6 L762.0,261.1 L765.3,264.4 L768.6,259.8 L771.8,258.9 L775.1,258.0 L778.3,260.9 L781.6,259.3 L784.8,258.4 L788.1,258.5 L791.4,259.5 L794.6,259.9 L797.9,260.0 L801.1,257.8 L804.4,252.5 L807.7,256.2 L810.9,256.9 L814.2,257.6 L817.4,261.6 L820.7,258.7 L824.0,258.5 L827.2,258.2 L830.5,255.3 L833.7,256.7 L837.0,259.2 L840.2,257.4 L843.5,257.5 L846.8,259.9 L850.0,256.8 L853.3,256.7 L856.5,257.3 L859.8,259.2 L863.1,259.5 L866.3,255.3 L869.6,255.5 L872.8,253.8 L876.1,254.7 L879.4,256.9 L882.6,257.8 L885.9,257.3 L889.1,254.5 L892.4,254.1 L895.6,255.9 L898.9,256.6 L902.2,255.2 L905.4,251.8 L908.7,252.2 L911.9,251.5 L915.2,255.0 L918.5,251.6 L921.7,254.1 L925.0,250.2 L928.2,251.9 L931.5,252.9 L934.8,255.1 L938.0,254.2 L941.3,250.7 L944.5,250.9 L947.8,250.7 L951.1,251.6 L954.3,250.7 L957.6,250.5 L960.8,250.2"/>
</g>
<text class="tick" transform="translate(142.4,692.0) scale(1,1.07)" text-anchor="end" letter-spacing="-0.7">0.0</text>
<text class="tick" transform="translate(142.4,492.0) scale(1,1.07)" text-anchor="end" letter-spacing="-0.7">0.5</text>
<text class="tick" transform="translate(142.4,292.0) scale(1,1.07)" text-anchor="end" letter-spacing="-0.7">1.0</text>
<text class="tick" transform="translate(142.4,92.0) scale(1,1.07)" text-anchor="end" letter-spacing="-0.7">1.5</text>
<text class="tick" transform="translate(175.5,743.9) scale(1,1.07)" text-anchor="middle">0</text>
<text class="tick" transform="translate(400.2,743.9) scale(1,1.07)" text-anchor="middle">100</text>
<text class="tick" transform="translate(625.0,743.9) scale(1,1.07)" text-anchor="middle">200</text>
<text class="tick" transform="translate(849.8,743.9) scale(1,1.07)" text-anchor="middle">300</text>
<text class="tick" transform="translate(1074.5,743.9) scale(1,1.07)" text-anchor="middle">400</text>
<text class="ttl" x="543.6" y="782.5" dx="0,1.4,1.4,4.4">Time<tspan class="par" x="616" y="782.5">（</tspan><tspan x="660" y="782.5">s</tspan><tspan class="par" x="683.6" y="782.5">）</tspan></text>
<text class="ttl" transform="translate(73,386.5) rotate(-90)" text-anchor="middle">Response (nm)</text>
<text class="ann" x="188" y="108.8">K<tspan font-size="22.5" dy="5.5">D</tspan><tspan dy="-3" font-size="27.5">＜</tspan><tspan dy="-2.5" dx="0.8">1.00<tspan font-size="26.5">×</tspan>10</tspan><tspan font-size="21" dy="-10.5">-12</tspan></text>
<text class="ann" x="188" y="151.3">K<tspan font-size="22.5" dy="5.5">off</tspan><tspan dy="-3" font-size="27.5">＜</tspan><tspan dy="-2.5" dx="0.8">1.00<tspan font-size="26.5">×</tspan>10</tspan><tspan font-size="21" dy="-10.5">-6</tspan></text>
<text class="ann" x="188" y="193.5">K<tspan font-size="22.5" dy="5.5">on</tspan><tspan dy="-5.5" font-size="29">=</tspan><tspan dy="0" dx="-0.8">2.70<tspan font-size="26.5">×</tspan>10</tspan><tspan font-size="21" dy="-10.5">4</tspan></text>
<rect x="985.5" y="78.8" width="64" height="3" fill="#DA4E58"/>
<text class="leg" x="1063.0" y="88.6">200 nM</text>
<rect x="985.0" y="128.6" width="64" height="3" fill="#E8892A"/>
<text class="leg" x="1062.5" y="138.4">100 nM</text>
<rect x="983.5" y="178.0" width="64" height="3" fill="#9B1BC4"/>
<text class="leg" x="1061.0" y="187.8">50 nM</text>
<rect x="983.5" y="230.4" width="64" height="3" fill="#1FA51F"/>
<text class="leg" x="1061.0" y="240.2">25 nM</text>
<rect x="984.0" y="282.8" width="64" height="3" fill="#2389A0"/>
<text class="leg" x="1061.5" y="292.6">12.5 nM</text>
<rect x="983.5" y="335.4" width="64" height="3" fill="#0500B4"/>
<text class="leg" x="1061.0" y="345.2">6.25 nM</text>
<rect x="983.7" y="387.7" width="64" height="3" fill="#F2F532"/>
<text class="leg" x="1061.2" y="397.5">3.125 nM</text>
</svg>
</body></html>
